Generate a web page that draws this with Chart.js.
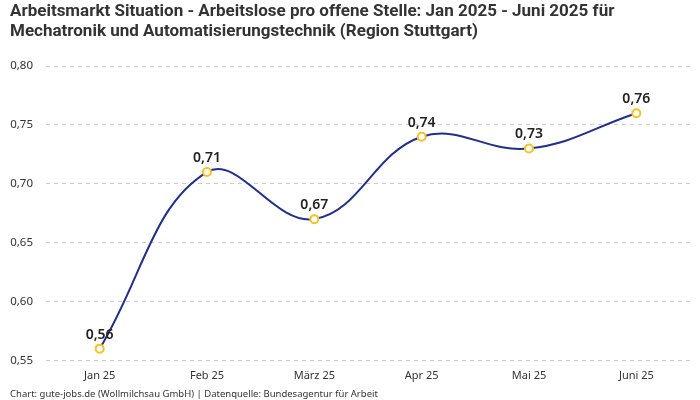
<!DOCTYPE html>
<html>
<head>
<meta charset="utf-8">
<script src="https://cdn.jsdelivr.net/npm/chart.js@4"></script>
<style>
  html, body { margin: 0; padding: 0; background: #fff; }
  #wrap { width: 700px; height: 400px; position: relative; }
</style>
</head>
<body>
<div id="wrap"><canvas id="chart"></canvas></div>
<script>
const months = ['Jan 25', 'Feb 25', 'März 25', 'Apr 25', 'Mai 25', 'Juni 25'];
const ratio = [0.56, 0.71, 0.67, 0.74, 0.73, 0.76];
const titleLines = [
    'Arbeitsmarkt Situation - Arbeitslose pro offene Stelle: Jan 2025 - Juni 2025 für',
    'Mechatronik und Automatisierungstechnik (Region Stuttgart)'
];
const sourceText = 'Chart: gute-jobs.de (Wollmilchsau GmbH) | Datenquelle: Bundesagentur für Arbeit';

const fmt = v => v.toFixed(2).replace('.', ',');

// draws value labels above each point
const valueLabels = {
    id: 'valueLabels',
    afterDatasetsDraw(chart) {
        const ctx = chart.ctx;
        const meta = chart.getDatasetMeta(0);
        ctx.save();
        ctx.font = '600 14px "Noto Sans", sans-serif';
        ctx.fillStyle = '#222';
        ctx.textAlign = 'center';
        ctx.textBaseline = 'bottom';
        meta.data.forEach((pt, i) => {
            ctx.fillText(fmt(ratio[i]), pt.x, pt.y - 7);
        });
        ctx.restore();
    }
};

new Chart(document.getElementById('chart'), {
    type: 'line',
    data: {
        labels: months,
        datasets: [{
            data: ratio,
            borderColor: '#1f2f8f',
            borderWidth: 2,
            tension: 0.4,
            pointRadius: 4,
            pointBorderWidth: 2,
            pointBackgroundColor: '#ffffff',
            pointBorderColor: '#f7c21b'
        }]
    },
    options: {
        responsive: true,
        maintainAspectRatio: false,
        animation: false,
        layout: { padding: { left: 10, right: 10, top: 0, bottom: 0 } },
        plugins: {
            legend: { display: false },
            tooltip: { enabled: false },
            title: {
                display: true,
                text: titleLines,
                align: 'start',
                color: '#333',
                font: { family: '"Liberation Sans Narrow", "Roboto", sans-serif', size: 17, weight: 'bold', lineHeight: 1.15 },
                padding: { top: 2, bottom: 25 }
            },
            subtitle: {
                display: true,
                position: 'bottom',
                text: sourceText,
                align: 'start',
                color: '#333',
                font: { family: '"Noto Sans", sans-serif', size: 9.5 },
                padding: { top: 5, bottom: 0 }
            }
        },
        scales: {
            x: {
                offset: true,
                grid: { display: false },
                border: { display: false },
                ticks: { color: '#333', font: { family: '"Noto Sans", sans-serif', size: 11 }, padding: 1 }
            },
            y: {
                min: 0.55,
                max: 0.80,
                afterFit: s => { s.width = 36; },
                ticks: {
                    stepSize: 0.05,
                    color: '#333',
                    font: { family: '"Noto Sans", sans-serif', size: 11.5 },
                    padding: 13,
                    callback: v => fmt(v)
                },
                border: { display: false, dash: [4, 4] },
                grid: { color: '#cccccc', drawTicks: false }
            }
        }
    },
    plugins: [valueLabels]
});
</script>
</body>
</html>
